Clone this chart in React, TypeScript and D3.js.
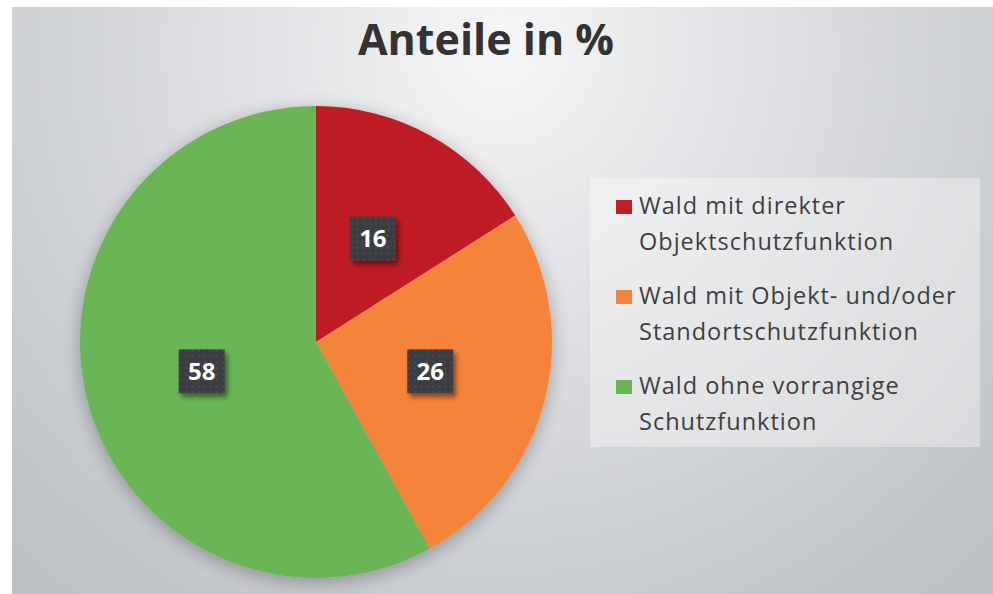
import React, { useEffect } from 'react';
import * as d3 from 'd3';

const categories = ['direkt', 'objektStandort', 'ohne'];
const values = [16, 26, 58];
const legendLines = [
  ['Wald mit direkter', 'Objektschutzfunktion'],
  ['Wald mit Objekt- und/oder', 'Standortschutzfunktion'],
  ['Wald ohne vorrangige', 'Schutzfunktion'],
];
const colors = ['#c01f28', '#f5843b', '#6ab557'];
const title = 'Anteile in %';

const W = 993;
const H = 594;
const cx = 316;
const cy = 342;
const R = 236;

export default function App() {
  useEffect(() => {
    document.body.style.margin = '0';
  }, []);

  const data = categories.map((c, i) => ({ key: c, value: values[i] }));
  const pie = d3
    .pie<{ key: string; value: number }>()
    .value((d) => d.value)
    .sort(null);
  const arcs = pie(data);
  const arc = d3
    .arc<d3.PieArcDatum<{ key: string; value: number }>>()
    .innerRadius(0)
    .outerRadius(R);

  const color = d3.scaleOrdinal<string, string>().domain(categories).range(colors);

  return (
    <svg width={W} height={H} style={{ display: 'block' }}>
      <defs>
        <radialGradient id="bg" gradientUnits="userSpaceOnUse" cx={500} cy={50} r={720}>
          <stop offset="0" stopColor="#f6f6f7" />
          <stop offset="0.4" stopColor="#dddfe2" />
          <stop offset="1" stopColor="#bcbfc3" />
        </radialGradient>
        <filter id="pieShadow" x="-20%" y="-20%" width="140%" height="140%">
          <feGaussianBlur in="SourceAlpha" stdDeviation="9" />
          <feOffset dx="0" dy="4" result="b" />
          <feComponentTransfer>
            <feFuncA type="linear" slope="0.3" />
          </feComponentTransfer>
          <feMerge>
            <feMergeNode />
            <feMergeNode in="SourceGraphic" />
          </feMerge>
        </filter>
        <filter id="boxShadow" x="-30%" y="-30%" width="170%" height="170%">
          <feGaussianBlur in="SourceAlpha" stdDeviation="2.5" />
          <feOffset dx="3" dy="4" />
          <feComponentTransfer>
            <feFuncA type="linear" slope="0.45" />
          </feComponentTransfer>
          <feMerge>
            <feMergeNode />
            <feMergeNode in="SourceGraphic" />
          </feMerge>
        </filter>
        <pattern id="dots" width="6" height="6" patternUnits="userSpaceOnUse">
          <rect width="6" height="6" fill="#3a3d42" />
          <circle cx="3" cy="3" r="0.9" fill="#4f535a" />
        </pattern>
      </defs>

      <rect x={12} y={7} width={W - 12} height={H - 7} fill="url(#bg)" />

      <text
        x={486}
        y={55}
        textAnchor="middle"
        fontFamily="'Open Sans', sans-serif"
        fontWeight="bold"
        fontSize={43}
        fill="#333333"
      >
        {title}
      </text>

      <g transform={`translate(${cx},${cy})`} filter="url(#pieShadow)">
        {arcs.map((a) => (
          <path key={a.data.key} d={arc(a) || ''} fill={color(a.data.key)} />
        ))}
      </g>

      <g transform={`translate(${cx},${cy})`}>
        {arcs.map((a) => {
          const [x, y] = arc.centroid(a);
          return (
            <g key={a.data.key} transform={`translate(${x},${y})`}>
              <rect x={-23} y={-22} width={46} height={44} fill="url(#dots)" filter="url(#boxShadow)" />
              <text
                y={8.5}
                textAnchor="middle"
                fontFamily="'Open Sans', sans-serif"
                fontWeight="bold"
                fontSize={24}
                fill="#ffffff"
              >
                {a.data.value}
              </text>
            </g>
          );
        })}
      </g>

      <rect x={590} y={178} width={390} height={269} fill="#ffffff" fillOpacity={0.35} />
      {legendLines.map((lines, i) => (
        <g key={categories[i]} transform={`translate(616,${200 + i * 90})`}>
          <rect x={0} y={0} width={16} height={14} fill={colors[i]} />
          {lines.map((ln, j) => (
            <text
              key={j}
              x={23}
              y={14 + j * 36}
              fontFamily="'Open Sans', sans-serif"
              fontSize={23.5}
              letterSpacing={1}
              fill="#3f3f3f"
            >
              {ln}
            </text>
          ))}
        </g>
      ))}
    </svg>
  );
}
